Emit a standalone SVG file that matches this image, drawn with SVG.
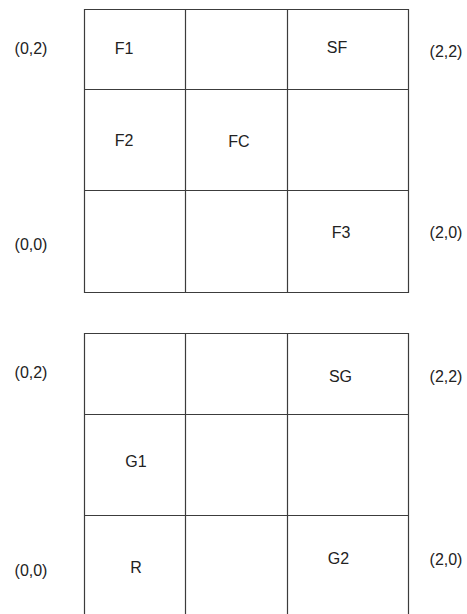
<svg xmlns="http://www.w3.org/2000/svg" width="467" height="614" viewBox="0 0 467 614">
<style>
.g{fill:none;stroke:#3c3c3c;stroke-width:1.2}
text{font-family:"Liberation Sans",Arial,sans-serif;font-size:16px;fill:#222;text-anchor:middle}
</style>
<rect width="467" height="614" fill="#fff"/>
<g id="gridF">
<path class="g" d="M84.5 9.5H408.5V292.5H84.5Z M84.5 89.5H408.5 M84.5 190.5H408.5 M185.5 9.5V292.5 M287.5 9.5V292.5"/>
</g>
<g id="gridG">
<path class="g" d="M84.5 620V333.5H408.5V620 M84.5 414.5H408.5 M84.5 515.5H408.5 M185.5 333.5V620 M287.5 333.5V620"/>
</g>
<g id="labelsF">
<text x="31" y="54">(0,2)</text>
<text x="124" y="54">F1</text>
<text x="337" y="53">SF</text>
<text x="446" y="57">(2,2)</text>
<text x="124" y="146">F2</text>
<text x="239" y="147">FC</text>
<text x="31" y="250">(0,0)</text>
<text x="341" y="237.5">F3</text>
<text x="446" y="238">(2,0)</text>
</g>
<g id="labelsG">
<text x="31" y="378">(0,2)</text>
<text x="340.5" y="382">SG</text>
<text x="446" y="382">(2,2)</text>
<text x="136" y="467">G1</text>
<text x="136" y="573">R</text>
<text x="31" y="576">(0,0)</text>
<text x="338.5" y="564">G2</text>
<text x="446" y="565">(2,0)</text>
</g>
</svg>
